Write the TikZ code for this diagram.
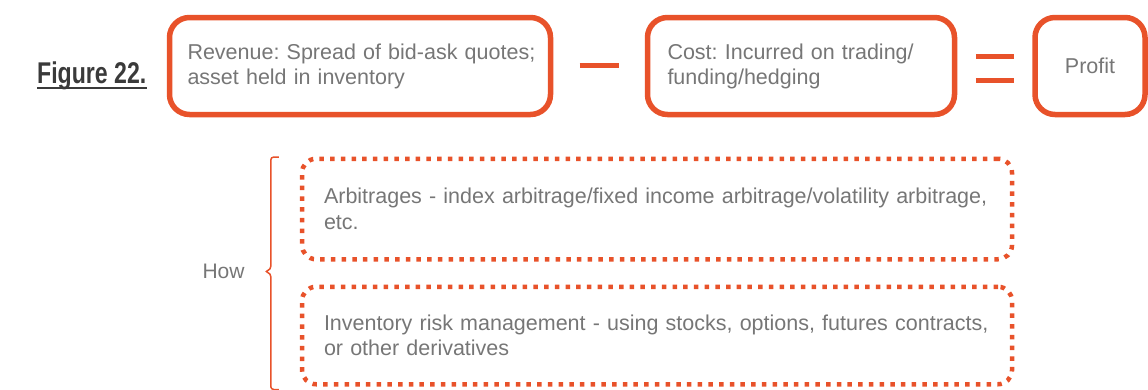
\documentclass[tikz,border=0pt]{standalone}
\usepackage{fontspec}
\setmainfont{Liberation Sans}
\newfontfamily\figfont[FakeStretch=0.77]{Liberation Sans}
\usetikzlibrary{positioning, calc}

\definecolor{brick}{RGB}{232,82,42}
\definecolor{txtgray}{RGB}{118,118,118}
\definecolor{capgray}{RGB}{58,58,58}

\tikzset{
  eqbox/.style={rectangle, draw=brick, line width=5.5pt, rounded corners=20pt,
    text=txtgray, font=\fontsize{21.5}{25}\selectfont, align=left,
    inner xsep=20pt, minimum height=97pt},
  waybox/.style={rectangle, draw=brick, line width=4.5pt, dash pattern=on 4.5pt off 6.2pt,
    rounded corners=14pt, text=txtgray, font=\fontsize{21.5}{25.5}\selectfont,
    align=left, inner xsep=22pt, text width=666pt},
  brace/.style={draw=brick, line width=1.5pt, rounded corners=3pt},
  sign/.style={draw=brick, line width=5pt}
}

\begin{document}
\frenchspacing
\begin{tikzpicture}[x=1pt, y=-1pt]
  \useasboundingbox (0,0) rectangle (1148,389);

  % caption
  \node[inner sep=0, anchor=base west, text=capgray,
        font=\figfont\bfseries\fontsize{30}{32}\selectfont] (fig) at (37,83) {Figure 22.};
  \draw[capgray, line width=2pt] ($(fig.south west)+(0,-1.5)$) -- ($(fig.south east)+(0,-1.5)$);

  % revenue - cost = profit
  \node[eqbox, text width=345pt, inner xsep=18pt] (rev) at (360,66) {\mbox{Revenue: Spread of bid-ask quotes;}\\asset held in inventory};
  \node[eqbox, text width=267pt] (cost) [right=91.5pt of rev] {Cost: Incurred on trading/\\funding/hedging};
  \node[eqbox, text width=70pt, align=center] (profit) [right=75pt of cost] {Profit};

  \draw[sign] ($(rev.east)!.5!(cost.west)+(-19.5,-0.5)$) -- ++(39,0);
  \draw[sign] ($(cost.east)!.5!(profit.west)+(-19,-10)$) -- ++(38,0);
  \draw[sign] ($(cost.east)!.5!(profit.west)+(-19,14.5)$) -- ++(38,0);

  % ways to make it
  \node[waybox, minimum height=100.5pt] (arb) at (657,209)
    {Arbitrages - index arbitrage/fixed income arbitrage/volatility arbitrage,\\etc.};
  \node[waybox, minimum height=97.5pt] (inv) [below=23pt of arb]
    {Inventory risk management - using stocks, options, futures contracts,\\or other derivatives};

  \coordinate (bt) at ($(arb.north west)+(-21,0.5)$);
  \coordinate (bb) at ($(inv.south west)+(-21,3)$);
  \coordinate (tip) at ($(arb.north west)+(-35,115)$);
  \draw[brace] (bt) -| ($(tip)+(6,-2)$) -- (tip) -- ($(tip)+(6,2)$) |- (bb);

  \node[inner sep=0, text=txtgray, font=\fontsize{21}{25}\selectfont] (how) [left=20pt of tip] {How};
\end{tikzpicture}
\end{document}
